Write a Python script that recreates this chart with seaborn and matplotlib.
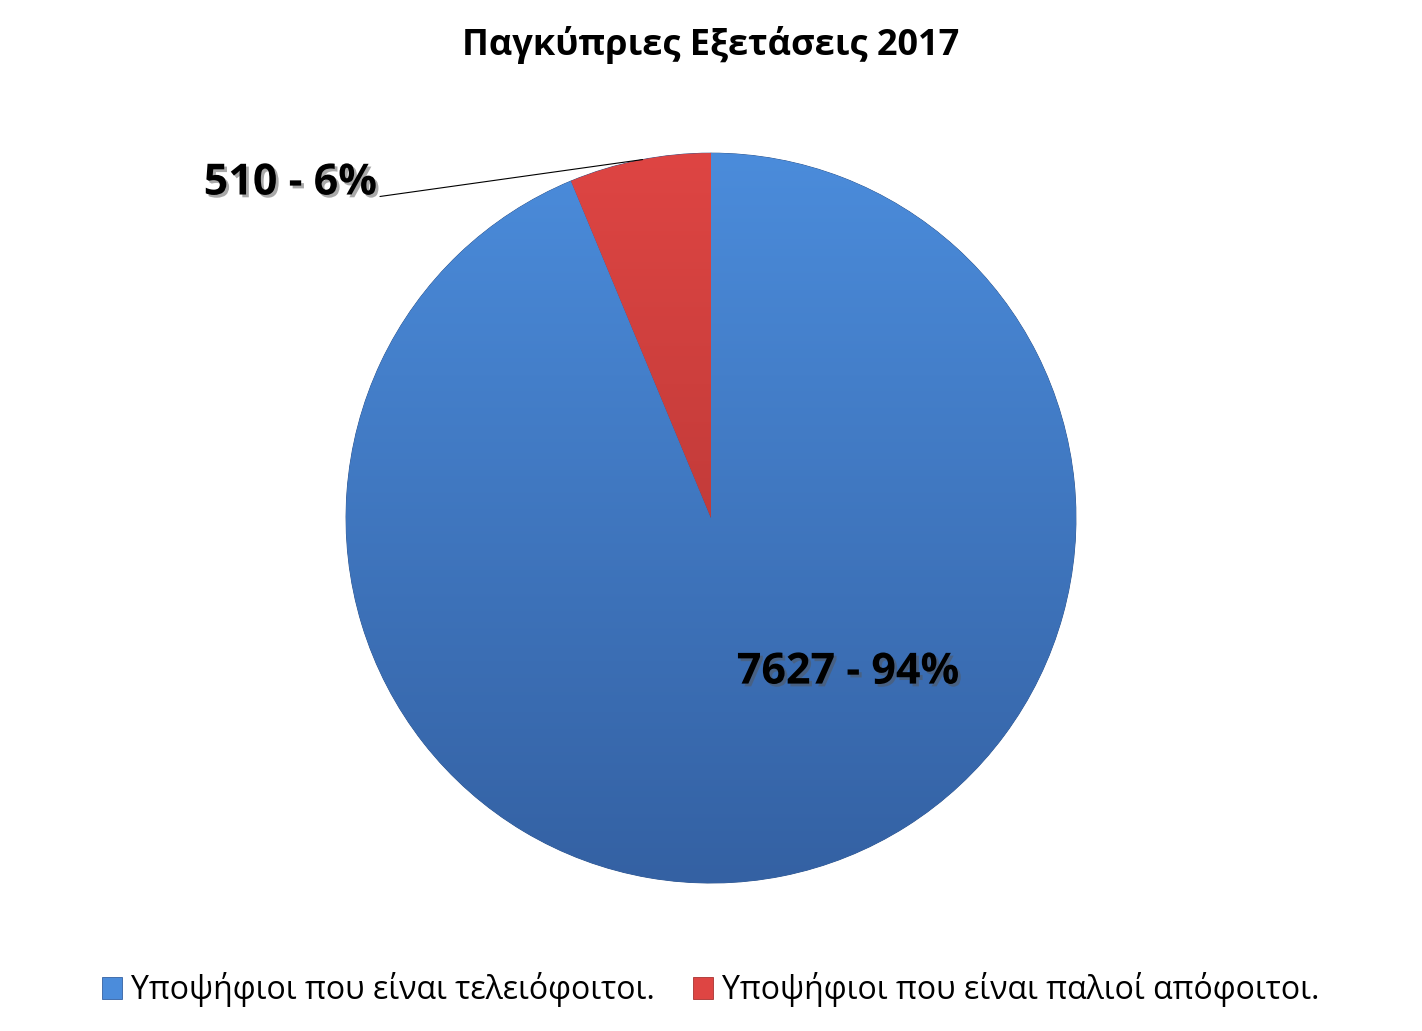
"""Pie chart: Pancyprian exams 2017 candidates"""
import numpy as np
import matplotlib
matplotlib.use('Agg')
import matplotlib.pyplot as plt
import matplotlib.patheffects as pe
import seaborn as sns

# Data
labels = ['Υποψήφιοι που είναι τελειόφοιτοι.', 'Υποψήφιοι που είναι παλιοί απόφοιτοι.']
counts = [7627, 510]
percents = [94, 6]
title = 'Παγκύπριες Εξετάσεις 2017'

# colours (top / bottom of the gradient)
top_colors = ['#4b8cdb', '#de4543']
bottom_colors = ['#3461a3', '#a83230']

sns.set_theme(style='white')
plt.rcParams['font.family'] = ['Open Sans', 'DejaVu Sans']
plt.rcParams['text.color'] = 'black'

fig = plt.figure(figsize=(14.22, 10.31), dpi=100)
ax = fig.add_axes([0.2433, 0.1435, 0.5134, 0.708])

wedges, _ = ax.pie(counts, startangle=90, counterclock=False, radius=1,
                   colors=top_colors,
                   wedgeprops=dict(edgecolor='#2a4f86', linewidth=0.6))

# vertical gradient fill clipped to each wedge
grad = np.linspace(0, 1, 256).reshape(-1, 1)
for w, c_top, c_bot in zip(wedges, top_colors, bottom_colors):
    cmap = matplotlib.colors.LinearSegmentedColormap.from_list('g', [c_top, c_bot])
    im = ax.imshow(grad, cmap=cmap, extent=(-1, 1, -1, 1), aspect='auto',
                   origin='upper', zorder=w.get_zorder() + 0.1)
    im.set_clip_path(w)
ax.set_xlim(-1, 1)
ax.set_ylim(-1, 1)
ax.set_aspect('equal')
ax.axis('off')

shadow = [pe.withSimplePatchShadow(offset=(2, -2), shadow_rgbFace='#555555', alpha=0.5)]

# labels
theta = np.deg2rad(90 + 360 * percents[1] / 100 / 2)
ax.annotate(f'{counts[1]} - {percents[1]}%', xy=(np.cos(theta), np.sin(theta)),
            xytext=(-1.153, 0.918), ha='center', va='center',
            fontsize=31, fontweight='bold', color='black', path_effects=shadow,
            arrowprops=dict(arrowstyle='-', color='black', lw=0.8,
                            shrinkA=0, shrinkB=0,
                            connectionstyle='angle,angleA=0,angleB=8,rad=0',
                            relpos=(1.0, 0.1)),
            annotation_clip=False, zorder=10)
ax.text(0.375, -0.422, f'{counts[0]} - {percents[0]}%', ha='center', va='center',
        fontsize=31, fontweight='bold', color='black', path_effects=shadow, zorder=10)

fig.text(0.5, 0.956, title, ha='center', va='center', fontsize=26, fontweight='bold',
         color='black')

handles = [matplotlib.patches.Patch(facecolor=c, edgecolor=b, linewidth=0.6)
           for c, b in zip(top_colors, bottom_colors)]
fig.legend(handles, labels, loc='center', bbox_to_anchor=(0.5, 0.04), ncol=2,
           frameon=False, fontsize=23, handlelength=0.6, handleheight=0.7,
           handletextpad=0.3, columnspacing=1.2, labelcolor='black')

fig.savefig('out.png', dpi=100, facecolor='white')
